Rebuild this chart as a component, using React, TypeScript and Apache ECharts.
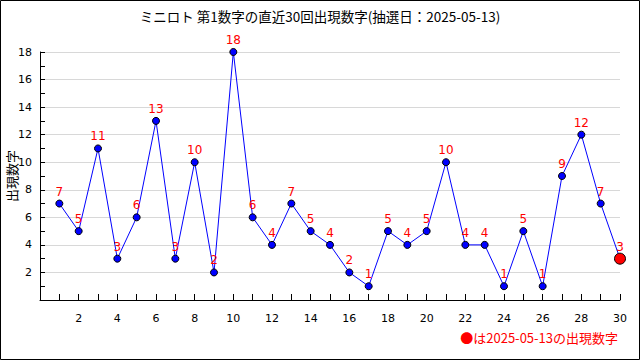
import React, { useEffect, useRef } from "react";
import * as echarts from "echarts";

const draws: number[] = [1, 2, 3, 4, 5, 6, 7, 8, 9, 10, 11, 12, 13, 14, 15, 16, 17, 18, 19, 20, 21, 22, 23, 24, 25, 26, 27, 28, 29, 30];
const values: number[] = [7, 5, 11, 3, 6, 13, 3, 10, 2, 18, 6, 4, 7, 5, 4, 2, 1, 5, 4, 5, 10, 4, 4, 1, 5, 1, 9, 12, 7, 3];
const titleText = "ミニロト 第1数字の直近30回出現数字(抽選日：2025-05-13)";
const yName = "出現数字";
const noteText = "●は2025-05-13の出現数字";

export default function App() {
  const ref = useRef<HTMLDivElement>(null);
  useEffect(() => {
    document.body.style.margin = "0";
    if (!ref.current) return;
    const chart = echarts.init(ref.current, undefined, { renderer: "svg" });
    const last = draws.length - 1;
    const data = draws.map((d, i) =>
      i === last
        ? {
            value: [d, values[i]],
            symbolSize: 11,
            itemStyle: { color: "#ff0000", borderColor: "#000", borderWidth: 1 },
            label: { distance: 0 },
          }
        : { value: [d, values[i]] }
    );
    chart.setOption({
      animation: false,
      backgroundColor: "#fff",
      title: {
        text: titleText,
        left: "center",
        top: 4,
        textStyle: { fontFamily: "Noto Sans CJK JP", fontSize: 13.5, fontWeight: "normal", color: "#000" },
      },
      grid: { left: 40, right: 20, top: 52, bottom: 60, containLabel: false, outerBoundsMode: "none" },
      xAxis: {
        type: "value",
        min: 0,
        max: 30,
        interval: 2,
        axisLine: { show: true, lineStyle: { color: "#000", width: 1 } },
        axisTick: { show: true, inside: true, length: 6, lineStyle: { color: "#000" } },
        minorTick: { show: true, splitNumber: 2, length: 6, lineStyle: { color: "#000" } },
        axisLabel: {
          margin: 13,
          color: "#000",
          fontFamily: "DejaVu Sans",
          fontSize: 11,
          formatter: (v: number) => (v === 0 ? "" : String(v)),
        },
        splitLine: { show: false },
      },
      yAxis: {
        type: "value",
        min: 0,
        max: 18,
        interval: 2,
        axisLine: { show: true, lineStyle: { color: "#000", width: 1 } },
        axisTick: { show: true, inside: true, length: 5, lineStyle: { color: "#000" } },
        minorTick: { show: true, splitNumber: 2, length: 5, lineStyle: { color: "#000" } },
        axisLabel: {
          margin: 8,
          color: "#000",
          fontFamily: "DejaVu Sans",
          fontSize: 11,
          formatter: (v: number) => (v === 0 ? "" : String(v)),
        },
        splitLine: { show: true, lineStyle: { color: "#d8d8d8", width: 1 } },
      },
      series: [
        {
          type: "line",
          data,
          symbol: "circle",
          symbolSize: 7,
          lineStyle: { color: "#0000ff", width: 1 },
          itemStyle: { color: "#0000ff", borderColor: "#000", borderWidth: 1 },
          label: {
            show: true,
            position: "top",
            distance: 2,
            color: "#ff0000",
            fontFamily: "DejaVu Sans",
            fontSize: 12,
            formatter: (p: any) => String(p.value[1]),
          },
          z: 3,
        },
      ],
      graphic: [
        {
          type: "rect",
          shape: { x: 0.5, y: 0.5, width: 639, height: 359 },
          style: { fill: "none", stroke: "#000", lineWidth: 1 },
          silent: true,
        },
        {
          type: "text",
          x: 11,
          y: 176,
          rotation: Math.PI / 2,
          style: {
            text: yName,
            fill: "#000",
            font: "13px 'Noto Sans CJK JP'",
            align: "center",
            verticalAlign: "middle",
          },
        },
        {
          type: "text",
          right: 22,
          top: 331,
          style: {
            text: noteText,
            fill: "#ff0000",
            font: "13px 'Noto Sans CJK JP'",
          },
        },
      ],
    });
    return () => chart.dispose();
  }, []);
  return <div ref={ref} style={{ width: 640, height: 360 }} />;
}
